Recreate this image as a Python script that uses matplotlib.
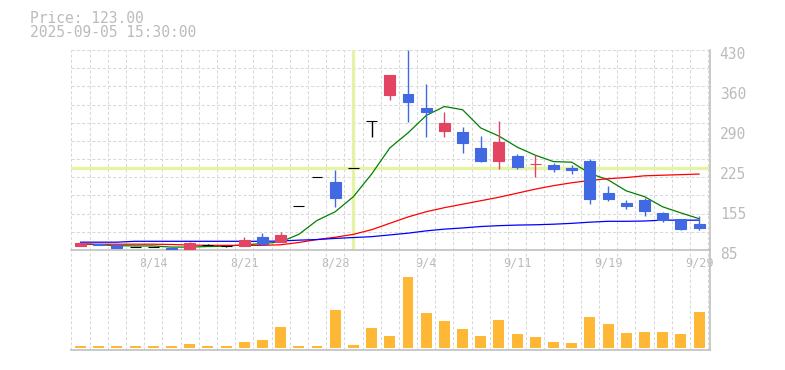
import numpy as np
import matplotlib.pyplot as plt
import matplotlib.transforms as mtransforms

# trading days shown on the chart
dates = ['8/7', '8/8', '8/12', '8/13', '8/14', '8/15', '8/18', '8/19', '8/20', '8/21',
         '8/22', '8/25', '8/26', '8/27', '8/28', '8/29', '9/1', '9/2', '9/3', '9/4',
         '9/5', '9/8', '9/9', '9/10', '9/11', '9/12', '9/16', '9/17', '9/18', '9/19',
         '9/22', '9/24', '9/25', '9/26', '9/29']

opens = [92, 95, 93.5, 90, 90, 89, 87.5, 93, 92, 92.5,
         107.5, 99.5, 160.5, 210.5, 202, 226, 307, 353, 354, 330.5,
         291, 288.5, 261, 239, 247, 233, 232, 226.5, 239, 184,
         166, 172, 149, 138.5, 130]
highs = [97, 95.5, 93.5, 91, 91, 89, 99, 94.5, 92, 107,
         115, 116, 160.5, 210.5, 222.5, 226, 307, 387, 430, 371,
         323, 297, 281.5, 307, 250.5, 249, 234.5, 231, 242, 195.5,
         171, 174.5, 150.5, 138.5, 144]
lows = [92, 93, 89, 90, 90, 85, 87.5, 93, 91, 92.5,
        94, 99.5, 160.5, 210.5, 159, 226, 280, 344, 306, 280.5,
        280.5, 253, 237.5, 225, 225, 211.5, 220, 216.5, 165, 170,
        156, 144, 134, 120, 120]
closes = [97, 94, 89, 90, 90, 85.5, 96.5, 93, 92, 102,
          95.5, 111, 160.5, 210.5, 175.5, 226, 307, 387, 341, 323.5,
          304, 270, 239, 271, 229, 234, 225.5, 223, 173.5, 173.5,
          161, 153, 137, 122, 123]

# moving averages
ma_short = [95.5, 94, 92.5, 92, 92, 90, 90, 91, 91.5, 94,
            96, 99, 112, 136, 151, 177, 216, 261, 287, 317,
            332.5, 327, 295.5, 281.5, 262.5, 248.5, 237.5, 236.5, 217, 206,
            187, 177, 159.5, 149, 139]
ma_mid = [95.5, 95, 95, 95, 95, 94.5, 93.5, 93, 93, 93,
          93, 94, 98, 103, 107, 112, 120, 131, 142, 151,
          158, 164, 170, 176, 183, 190, 196, 201, 205, 208,
          210, 213, 214, 215, 216]
ma_long = [98.5, 98.5, 98.5, 100, 100, 100, 100, 100, 100, 100,
           100, 100.5, 102, 103, 105, 106.5, 108, 111, 114, 118,
           121, 123, 125.5, 127, 128, 128.5, 129.5, 131, 133, 134.5,
           134.5, 135, 136.5, 136.5, 136.5]

volumes = [600, 600, 600, 600, 600, 600, 1200, 600, 600, 1800,
           2400, 6300, 600, 600, 11400, 900, 6000, 3600, 21400, 10600,
           8100, 5700, 3600, 8400, 4200, 3300, 1800, 1500, 9300, 7200,
           4500, 4800, 4800, 4200, 10800]

date_ticks = ['8/14', '8/21', '8/28', '9/4', '9/11', '9/19', '9/29']
price_ticks = [85, 154, 223, 292, 361, 430]
price_labels = ['85', '155', '225', '290', '360', '430']
cross_date = '8/29'
cross_price = 226
header = ['Price: 123.00', '2025-09-05 15:30:00']

UP = '#e24462'
DOWN = '#4169e1'
GRID = '#d9d9d9'
TEXT = '#bbbbbb'
MONO = 'DejaVu Sans Mono'

W, H = 785, 370
fig = plt.figure(figsize=(W / 100, H / 100), dpi=100)
left, right = 70.5, 710
ax = fig.add_axes([left / W, (H - 250) / H, (right - left) / W, 200 / H])
axv = fig.add_axes([left / W, (H - 350) / H, (right - left) / W, 100 / H])
axv.set_facecolor('none')

x = np.arange(len(dates))
o = np.array(opens)
c = np.array(closes)
colors = [UP if cc > oo else DOWN if cc < oo else 'black' for oo, cc in zip(o, c)]

# grid: one cell per trading day horizontally, 11 rows vertically
for a in (ax, axv):
    a.set_xlim(-0.55, len(dates) - 0.4)
    for gx in np.arange(-0.5, len(dates), 1.0):
        a.axvline(gx, color=GRID, lw=0.75, ls=(0, (3, 2)), zorder=0)
    for s in ('left', 'top'):
        a.spines[s].set_visible(False)
    for s in ('right', 'bottom'):
        a.spines[s].set_color('#c0c0c0')
        a.spines[s].set_linewidth(1.2)

ax.set_ylim(85, 430)
for gy in np.linspace(85, 430, 12):
    ax.axhline(gy, color=GRID, lw=0.75, ls=(0, (3, 2)), zorder=0)

# crosshair
ax.axvline(dates.index(cross_date), color='#e4f4a4', lw=2.4, zorder=1)
ax.axhline(cross_price, color='#e4f4a4', lw=2.4, zorder=1)

# moving averages
ax.plot(x, ma_short, color='#008000', lw=0.9, zorder=2)
ax.plot(x, ma_mid, color='#ff0000', lw=0.9, zorder=2)
ax.plot(x, ma_long, color='#0000ff', lw=0.9, zorder=2)

# candles
ax.vlines(x, lows, highs, colors=colors, lw=1.0, zorder=3)
ax.bar(x, np.abs(c - o), bottom=np.minimum(o, c), width=0.6, color=colors,
       edgecolor=colors, linewidth=0.8, zorder=4)

ax.yaxis.tick_right()
ax.set_yticks(price_ticks)
ax.set_yticklabels(price_labels, fontsize=10.5, color=TEXT, family=MONO)
ax.tick_params(axis='y', length=0, pad=7)
shift = mtransforms.ScaledTranslation(0, -3 / 100, fig.dpi_scale_trans)
for lbl in ax.get_yticklabels():
    lbl.set_transform(lbl.get_transform() + shift)

ax.set_xticks([dates.index(d) for d in date_ticks])
ax.set_xticklabels(date_ticks, fontsize=8.5, color=TEXT, family=MONO)
ax.tick_params(axis='x', length=0, pad=5)

# volume
axv.bar(x, volumes, width=0.6, color='#ffb835', zorder=2)
axv.set_ylim(-600, 29400)
axv.set_yticks([])
axv.set_xticks([])

fig.text(30 / W, 1 - 22.7 / H, header[0], fontsize=10.5, color=TEXT, family=MONO)
fig.text(30 / W, 1 - 37.3 / H, header[1], fontsize=10.5, color=TEXT, family=MONO)

fig.savefig('out.png', dpi=100)
